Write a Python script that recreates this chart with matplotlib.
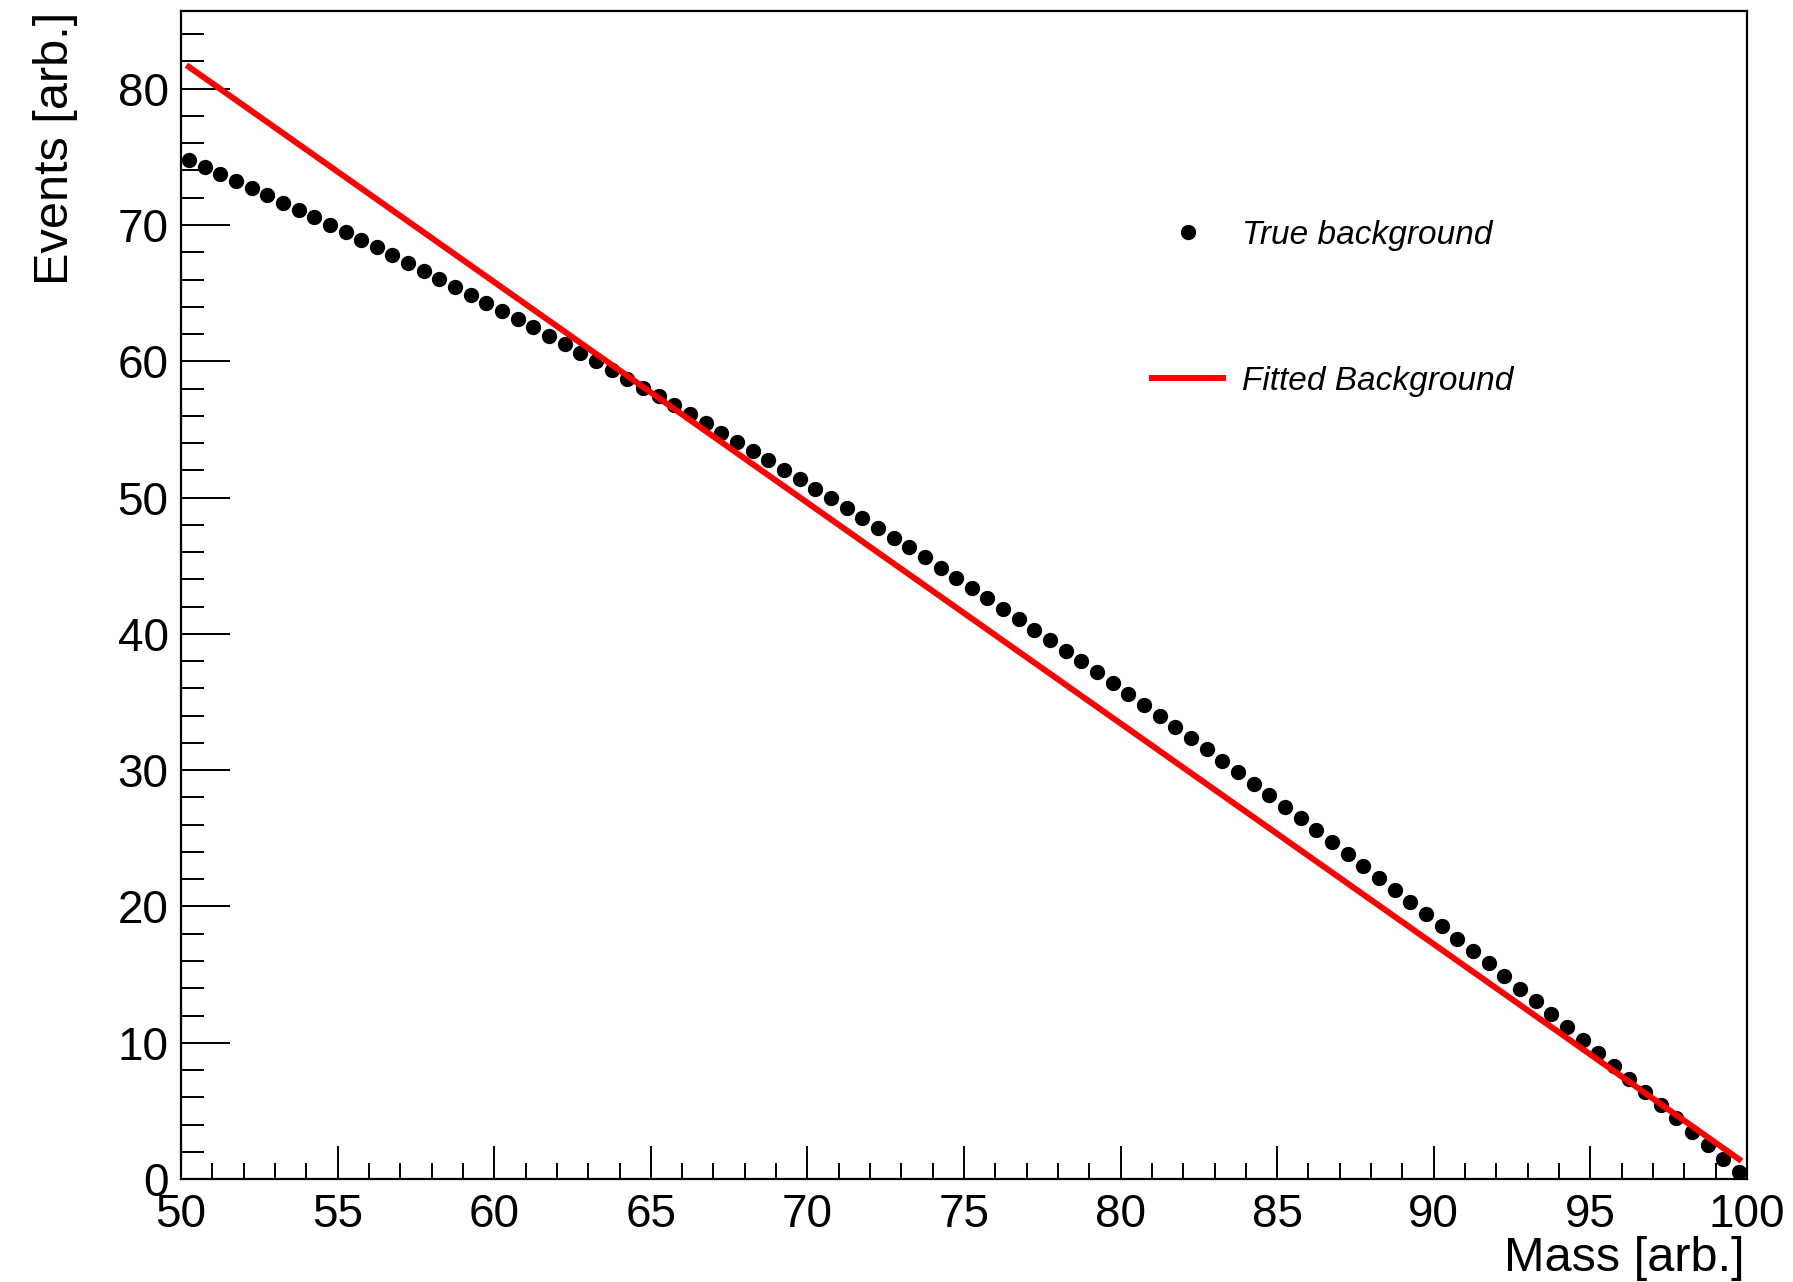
import numpy as np
import matplotlib
matplotlib.use("Agg")
import matplotlib.pyplot as plt
from matplotlib.ticker import MultipleLocator
from matplotlib.lines import Line2D

plt.rcParams['font.family'] = ['Liberation Sans', 'DejaVu Sans']

# true background (bin centres every 0.5)
mass = np.arange(50.25, 100.0, 0.5)
true_bg = [
    74.75, 74.24, 73.73, 73.22, 72.70, 72.17, 71.64, 71.11, 70.57, 70.02,
    69.47, 68.92, 68.36, 67.79, 67.22, 66.65, 66.07, 65.48, 64.89, 64.30,
    63.70, 63.09, 62.48, 61.87, 61.25, 60.62, 59.99, 59.36, 58.72, 58.07,
    57.42, 56.77, 56.11, 55.44, 54.77, 54.10, 53.42, 52.73, 52.04, 51.35,
    50.65, 49.94, 49.23, 48.52, 47.80, 47.07, 46.34, 45.61, 44.87, 44.12,
    43.37, 42.62, 41.86, 41.09, 40.32, 39.55, 38.77, 37.98, 37.19, 36.40,
    35.60, 34.79, 33.98, 33.17, 32.35, 31.52, 30.69, 29.86, 29.02, 28.17,
    27.32, 26.47, 25.61, 24.74, 23.87, 23.00, 22.12, 21.23, 20.34, 19.45,
    18.55, 17.64, 16.73, 15.82, 14.90, 13.97, 13.04, 12.11, 11.17, 10.22,
    9.27, 8.32, 7.36, 6.39, 5.42, 4.45, 3.47, 2.48, 1.49, 0.50,
]

# fitted straight line, end points
fit_x = [50.25, 99.75]
fit_y = [81.6, 1.45]

fig = plt.figure(figsize=(17.93, 12.82), dpi=100)
ax = fig.add_axes([0.101, 0.0803, 0.8733, 0.9111])

ax.plot(mass, true_bg, 'o', color='black', markersize=10, linestyle='none')
ax.plot(fit_x, fit_y, color='#ff0000', linewidth=4.3)

ax.set_xlim(50, 100)
ax.set_ylim(0, 85.7)
ax.xaxis.set_major_locator(MultipleLocator(5))
ax.xaxis.set_minor_locator(MultipleLocator(1))
ax.yaxis.set_major_locator(MultipleLocator(10))
ax.yaxis.set_minor_locator(MultipleLocator(2))
ax.tick_params(axis='both', which='both', direction='in', width=1.4, labelsize=33)
ax.tick_params(axis='x', which='major', length=24, pad=10)
ax.tick_params(axis='x', which='minor', length=11.5)
ax.tick_params(axis='y', which='major', length=35, pad=9)
ax.tick_params(axis='y', which='minor', length=16.5)
for s in ax.spines.values():
    s.set_linewidth(1.6)

fig.text(1745 / 1793, 11 / 1282, 'Mass [arb.]', ha='right', va='baseline', fontsize=35)
fig.text(0.031, 0.9906, 'Events [arb.]', rotation=90, ha='center', va='top', fontsize=35)

handles = [
    Line2D([], [], marker='o', color='black', linestyle='none', markersize=10),
    Line2D([], [], color='#ff0000', linewidth=4.3),
]
ax.legend(handles, ['True background', 'Fitted Background'],
          loc='upper left', bbox_to_anchor=(1152 / 1793, (1282 - 220) / 1282),
          bbox_transform=fig.transFigure, frameon=False,
          prop={'style': 'italic', 'size': 24},
          handlelength=2.13, handletextpad=0.57, labelspacing=3.45,
          borderpad=0, borderaxespad=0)

fig.savefig('out.png', dpi=100)
